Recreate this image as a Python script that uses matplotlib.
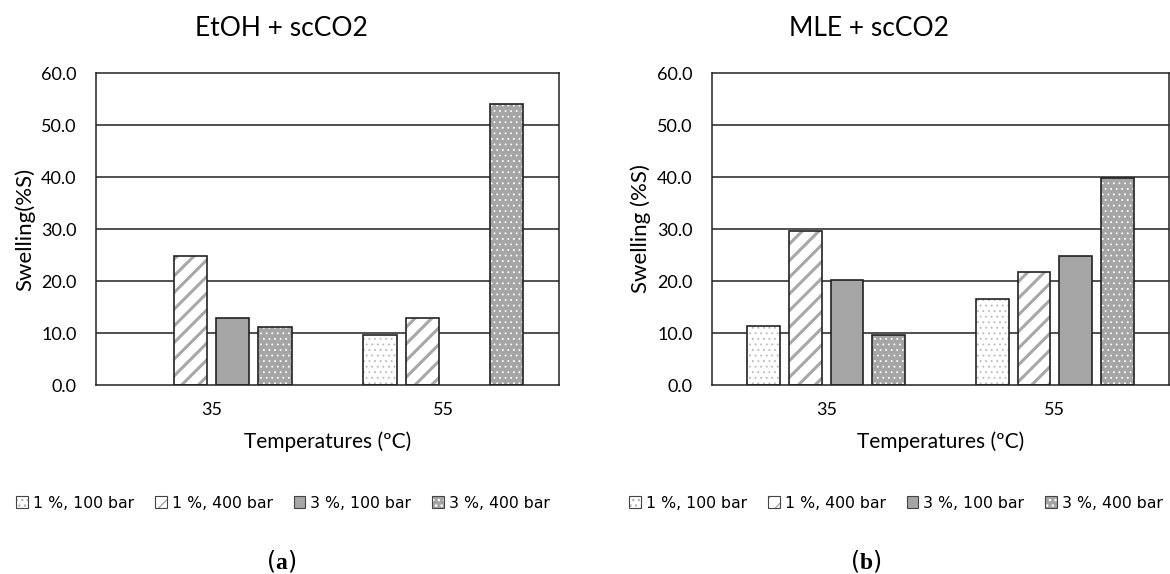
import numpy as np
import matplotlib
matplotlib.use("Agg")
import matplotlib.pyplot as plt
from matplotlib.patches import Patch

plt.rcParams['mathtext.fontset'] = 'custom'
plt.rcParams['mathtext.rm'] = 'Liberation Serif'
plt.rcParams['mathtext.bf'] = 'Liberation Serif:bold'

categories = ["35", "55"]
series = ["1 %, 100 bar", "1 %, 400 bar", "3 %, 100 bar", "3 %, 400 bar"]
etoh_values = [[0.0, 9.7], [24.8, 12.8], [12.8, 0.0], [11.2, 54.0]]
mle_values = [[11.3, 16.6], [29.6, 21.8], [20.1, 24.8], [9.7, 39.8]]
titles = ["EtOH + scCO2", "MLE + scCO2"]
ylabels = ["Swelling(%S)", "Swelling (%S)"]
yticks = [0, 10, 20, 30, 40, 50, 60]
panel_tags = ["a", "b"]

face = ["white", "white", "#a5a5a5", "#a5a5a5"]
hcol = ["#b8b8b8", "#a8a8a8", "#a5a5a5", "white"]
hatches = ["...", "//", None, "..."]
hlw = [0.6, 2.2, 1.0, 0.6]


def hpatch(i, **kw):
    with plt.rc_context({'hatch.linewidth': hlw[i]}):
        p = Patch(facecolor=face[i], edgecolor=hcol[i], hatch=hatches[i], lw=0, **kw)
    if hasattr(p, "set_hatch_linewidth"):
        p.set_hatch_linewidth(hlw[i])
    return p


fig = plt.figure(figsize=(11.7, 5.74), dpi=100)
axes_pos = [[96/1170, 189/574, 463/1170, 312/574],
            [712/1170, 189/574, 457/1170, 312/574]]
title_x = [281/1170, 869/1170]
legend_x = [283/1170, 896/1170]
tag_x = [281/1170, 866/1170]

font = "Lato"
pitch = 0.182
bw = 0.144
x = np.arange(len(categories))

for k, (vals, pos) in enumerate(zip([etoh_values, mle_values], axes_pos)):
    ax = fig.add_axes(pos)
    ax.set_xlim(-0.5, 1.5)
    ax.set_ylim(0, 60)
    ax.set_yticks(yticks)
    ax.set_yticklabels([f"{v:.1f}" for v in yticks], fontsize=13, family=font)
    ax.set_xticks(x)
    ax.set_xticklabels(categories, fontsize=13, family=font)
    ax.tick_params(axis='x', length=0, pad=12)
    ax.tick_params(axis='y', length=0, pad=14)
    for v in yticks[1:-1]:
        ax.axhline(v, color="#222222", lw=1.1, zorder=1)
    for s in ax.spines.values():
        s.set_color("#222222")
        s.set_linewidth(1.1)
    for i in range(4):
        xs = x + (i - 1.5) * pitch
        hv = np.array(vals[i])
        mask = hv > 0
        with plt.rc_context({'hatch.linewidth': hlw[i]}):
            bars = ax.bar(xs[mask], hv[mask], bw, color=face[i], edgecolor=hcol[i],
                          hatch=hatches[i], linewidth=0, zorder=2)
        for b in bars:
            if hasattr(b, "set_hatch_linewidth"):
                b.set_hatch_linewidth(hlw[i])
        ax.bar(xs[mask], hv[mask], bw, fill=False, edgecolor="#222222",
               linewidth=1.2, zorder=3)
    fig.text(title_x[k], 1 - 28/574, titles[k], fontsize=19, family=font,
             ha="center", va="center")
    ax.set_xlabel("Temperatures (ºC)", fontsize=15, family=font, labelpad=10)
    ax.set_ylabel(ylabels[k], fontsize=16, family=font, labelpad=4)
    handles = [(hpatch(i), Patch(fill=False, edgecolor="#444444", lw=0.8)) for i in range(4)]
    fig.legend(handles, series, loc="center",
               bbox_to_anchor=(legend_x[k], 1 - 503/574), ncol=4, frameon=False,
               handlelength=0.75, handleheight=0.75,
               handletextpad=0.3, columnspacing=1.35,
               prop={'family': 'DejaVu Sans', 'size': 11.3})
    fig.text(tag_x[k], 6/574, r"($\mathbf{" + panel_tags[k] + r"}$)", ha="center",
             va="baseline", fontsize=17)

fig.savefig("out.png", dpi=100)
